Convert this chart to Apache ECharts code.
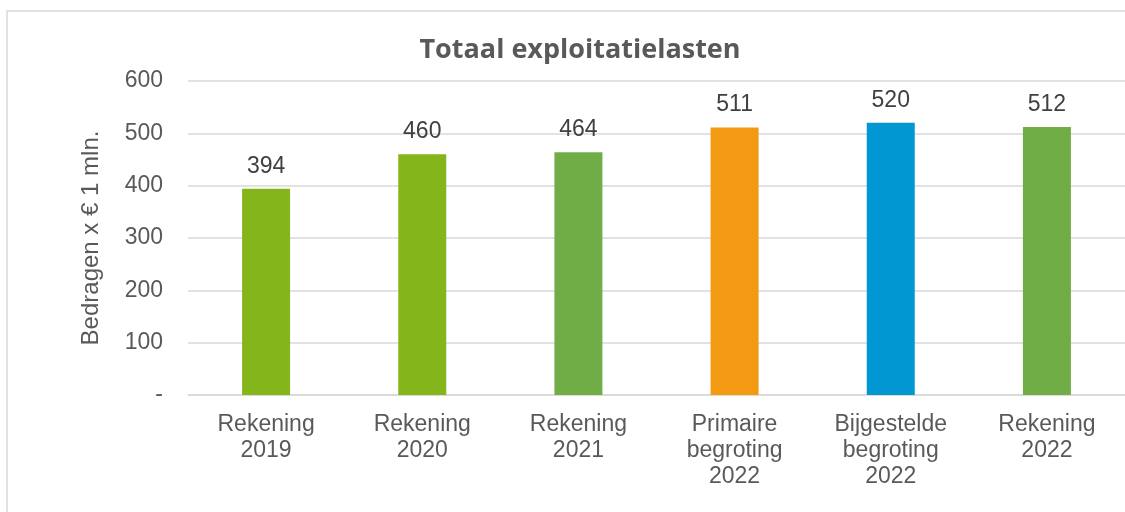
<!DOCTYPE html>
<html>
<head>
<meta charset="utf-8">
<script src="https://cdn.jsdelivr.net/npm/echarts@6/dist/echarts.min.js"></script>
<style>
html,body{margin:0;padding:0;background:#fff;}
#c{width:1125px;height:512px;}
</style>
</head>
<body>
<div id="c"></div>
<script>
const categories = ['Rekening\n2019', 'Rekening\n2020', 'Rekening\n2021', 'Primaire\nbegroting\n2022', 'Bijgestelde\nbegroting\n2022', 'Rekening\n2022'];
const values = [394, 460, 464, 511, 520, 512];
const barColors = ['#84B51A', '#84B51A', '#70AD47', '#F39A12', '#0097D3', '#70AD47'];
const yTicks = [0, 100, 200, 300, 400, 500, 600];
const titleText = 'Totaal exploitatielasten';
const yAxisName = 'Bedragen x € 1 mln.';

const chart = echarts.init(document.getElementById('c'), null, {renderer: 'canvas'});
const font = '"Liberation Sans", Arial, sans-serif';
chart.setOption({
  animation: false,
  backgroundColor: '#ffffff',
  title: {
    text: titleText,
    left: 575,
    top: 32,
    textAlign: 'center',
    textStyle: {fontFamily: '"Open Sans", sans-serif', fontWeight: 'bold', fontSize: 27, color: '#595959'}
  },
  graphic: [{
    type: 'rect',
    shape: {x: 7, y: 11, width: 1200, height: 600},
    style: {fill: 'none', stroke: '#d9d9d9', lineWidth: 1.5},
    silent: true
  }],
  grid: {left: 188, top: 81, width: 940, height: 314, containLabel: false},
  xAxis: {
    type: 'category',
    data: categories,
    axisLine: {show: true, lineStyle: {color: '#d9d9d9', width: 1.5}},
    axisTick: {show: false},
    axisLabel: {fontFamily: font, fontSize: 23, color: '#595959', lineHeight: 26, margin: 17, interval: 0}
  },
  yAxis: {
    type: 'value',
    min: yTicks[0],
    max: yTicks[yTicks.length - 1],
    interval: 100,
    name: yAxisName,
    nameLocation: 'middle',
    nameRotate: 90,
    nameGap: 85,
    nameTextStyle: {fontFamily: font, fontSize: 24, color: '#595959'},
    axisLine: {show: false},
    axisTick: {show: false},
    splitLine: {lineStyle: {color: '#d9d9d9', width: 1.5}},
    axisLabel: {
      fontFamily: font, fontSize: 23, color: '#595959', margin: 25,
      formatter: v => v === 0 ? '-' : String(v)
    }
  },
  series: [{
    type: 'bar',
    barWidth: 48,
    data: values.map((v, i) => ({value: v, itemStyle: {color: barColors[i]}})),
    label: {show: true, position: 'top', distance: 11, fontFamily: font, fontSize: 23, color: '#404040'}
  }]
});
</script>
</body>
</html>
